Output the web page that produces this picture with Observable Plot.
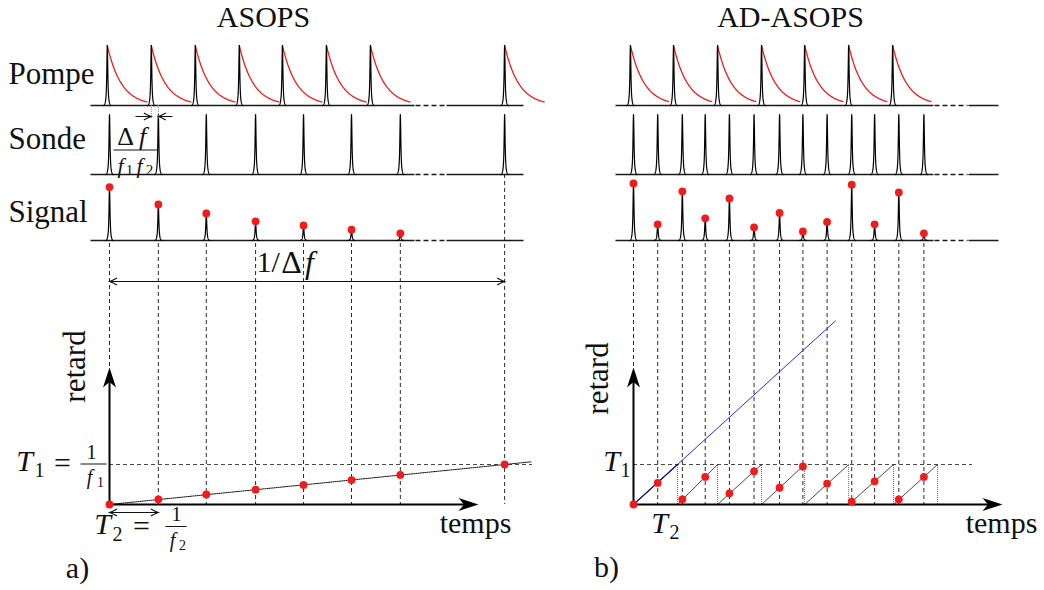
<!DOCTYPE html>
<html><head><meta charset="utf-8">
<script src="https://cdn.jsdelivr.net/npm/d3@7"></script>
<script src="https://cdn.jsdelivr.net/npm/@observablehq/plot@0.6"></script>
<style>
html,body{margin:0;padding:0;background:#fff;}
#chart{width:1044px;height:590px;overflow:hidden;}
</style></head>
<body><div id="chart"></div>
<script>
// ================= DATA =================
// Times are in pump periods T1 = 1/f1, measured from the first probe pulse of each panel.
// Panel a) ASOPS
const asopsPumpTimes  = [-0.05, 0.95, 1.95, 2.95, 3.93, 4.93, 5.93, 8.98];
const asopsProbeTimes = [0, 1.11, 2.2, 3.32, 4.41, 5.5, 6.61, 8.98];
const asopsSignal     = [0.89, 0.6, 0.45, 0.32, 0.25, 0.18, 0.12];      // relative to pump peak
const asopsDelay      = [0, 0.13, 0.25, 0.37, 0.49, 0.61, 0.74, 1.0];  // delay in T1
const asopsLineEnd    = 9.6;                                            // end of the dotted delay line

// Panel b) AD-ASOPS
const adPumpTimes  = [-0.07, 0.91, 1.91, 2.91, 3.89, 4.89, 5.89];
const adProbeTimes = [0, 0.55, 1.11, 1.63, 2.18, 2.74, 3.32, 3.85, 4.4, 4.96, 5.48, 6.03, 6.6];
const adSignal     = [0.95, 0.27, 0.82, 0.37, 0.7, 0.22, 0.46, 0.15, 0.31, 0.93, 0.27, 0.8, 0.12];
const adDelay      = [0, 0.54, 0.13, 0.69, 0.28, 0.83, 0.42, 0.95, 0.52, 0.07, 0.58, 0.13, 0.69];
const adResetTimes = [0, 1.0, 1.91, 2.91, 3.89, 4.89, 5.91, 6.91];       // sawtooth resets
const adLinearEnd  = 4.59;                                                // end of blue linear delay line

// Text
const panelTitles = ["ASOPS", "AD-ASOPS"];
const rowLabels   = ["Pompe", "Sonde", "Signal"];
const axisLabels  = ["retard", "temps"];
const panelTags   = ["a)", "b)"];

// ================= LAYOUT =================
const SERIF = "'Liberation Serif', 'DejaVu Serif', serif";
const PXT = 44, X0 = 109, PXD = 40, Y0 = 504;
const X = px => (px - X0) / PXT;     // layout px -> time units
const Y = py => (Y0 - py) / PXD;     // layout px -> delay units
const SHIFT_R = X(633);              // origin of right panel
const BASE = {pump: Y(105), probe: Y(174), signal: Y(240)};
const AMP = 60 / PXD;                // y units per unit amplitude
const RED = "#f01c1c";

function pulses(times, amps, base, shift, key) {
  const out = [];
  const half = 3.5, w = 0.6, edge = 1 / (1 + (half / w) ** 2);
  times.forEach((t, i) => {
    const a = amps == null ? 1 : amps[i];
    if (a == null) return;
    for (let k = -35; k <= 35; k++) {
      const dx = k / 10;
      const v = (1 / (1 + (dx / w) ** 2) - edge) / (1 - edge);
      out.push({x: shift + t + dx / PXT, y: base + a * AMP * v, z: key + i});
    }
  });
  return out;
}
function decays(times, base, shift, len, key) {
  const out = [];
  times.forEach((t, i) => {
    for (let k = 0; k <= 60; k++) {
      const dt = len * k / 60;
      out.push({x: shift + t + dt, y: base + AMP * Math.exp(-dt * PXT / 14), z: key + i});
    }
  });
  return out;
}

// baselines
const solidSegs = [], dashSegs = [];
for (const b of [BASE.pump, BASE.probe, BASE.signal]) {
  solidSegs.push({x1: X(90), x2: X(414), y: b}, {x1: X(446), x2: X(523), y: b},
                 {x1: X(615), x2: X(933), y: b}, {x1: X(968), x2: X(998), y: b});
  dashSegs.push({x1: X(415), x2: X(445), y: b}, {x1: X(934), x2: X(967), y: b});
}
// vertical guides
const guides = [
  ...asopsProbeTimes.map((t, i) => ({x: t, y1: i < asopsSignal.length ? BASE.signal - 3 / PXD : BASE.probe, y2: t === 0 ? Y(378) : 0})),
  ...adProbeTimes.map(t => ({x: SHIFT_R + t, y1: BASE.signal - 3 / PXD, y2: t === 0 ? Y(378) : 0}))
];
// sawtooth
const sawDiag = [], sawVert = [];
for (let j = 1; j < adResetTimes.length - 1; j++)
  sawDiag.push({x1: SHIFT_R + adResetTimes[j], y1: 0, x2: SHIFT_R + adResetTimes[j + 1], y2: 1});
for (let j = 1; j < adResetTimes.length; j++)
  sawVert.push({x: SHIFT_R + adResetTimes[j]});

const stealth = {draw(ctx) {
  ctx.moveTo(0, 0); ctx.lineTo(6.5, 20); ctx.lineTo(0, 14.5); ctx.lineTo(-6.5, 20); ctx.closePath();
}};
const chevron = {draw(ctx) {
  ctx.moveTo(-3.6, 7.5); ctx.quadraticCurveTo(-0.9, 2.6, 0, 0); ctx.quadraticCurveTo(0.9, 2.6, 3.6, 7.5);
}};

function tx(str, px, py, o = {}) {
  return Plot.text([str], {x: X(px), y: Y(py), text: d => d, fontFamily: SERIF, fontSize: 30,
    fill: "#111", lineAnchor: "middle", textAnchor: "middle", ...o});
}
const it = {fontStyle: "italic"};
const bar = (px1, px2, py) => Plot.link([0], {x1: X(px1), x2: X(px2), y1: Y(py), y2: Y(py), stroke: "#111", strokeWidth: 1});

const dots = [
  ...asopsProbeTimes.slice(0, asopsSignal.length).map((t, i) => ({x: t, y: BASE.signal + asopsSignal[i] * AMP})),
  ...adProbeTimes.map((t, i) => ({x: SHIFT_R + t, y: BASE.signal + adSignal[i] * AMP})),
  ...asopsProbeTimes.map((t, i) => ({x: t, y: asopsDelay[i]})),
  ...adProbeTimes.map((t, i) => ({x: SHIFT_R + t, y: adDelay[i]}))
];

const lastProbe = asopsProbeTimes[asopsProbeTimes.length - 1];
const annLines = [
  {x1: 0, x2: lastProbe, y: Y(281)},
  {x1: 0, x2: asopsProbeTimes[1], y: Y(512)},
  {x1: X(135), x2: asopsPumpTimes[1], y: Y(116)},
  {x1: X(172), x2: asopsProbeTimes[1], y: Y(116)}
];
const annTips = [
  {x: 0, y: Y(281), r: -90}, {x: lastProbe, y: Y(281), r: 90},
  {x: 0, y: Y(512), r: -90}, {x: asopsProbeTimes[1], y: Y(512), r: 90},
  {x: asopsPumpTimes[1], y: Y(116), r: 90}, {x: asopsProbeTimes[1], y: Y(116), r: -90}
];

const chart = Plot.plot({
  width: 1044, height: 590, margin: 0,
  x: {type: "linear", domain: [X(0), X(1044)], range: [0, 1044], axis: null},
  y: {type: "linear", domain: [Y(590), Y(0)], range: [590, 0], axis: null},
  style: {background: "white"},
  marks: [
    // baselines
    Plot.link(solidSegs, {x1: "x1", x2: "x2", y1: "y", y2: "y", stroke: "#1a1a1a", strokeWidth: 1.5}),
    Plot.link(dashSegs, {x1: "x1", x2: "x2", y1: "y", y2: "y", stroke: "#1a1a1a", strokeWidth: 1.5, strokeDasharray: "5,3"}),
    // guides
    Plot.ruleX(guides, {x: "x", y1: "y1", y2: "y2", stroke: "#111", strokeWidth: 0.9, strokeDasharray: "4,3"}),
    // T1 levels
    Plot.ruleY([1], {x1: 0, x2: X(532), stroke: "#333", strokeWidth: 0.9, strokeDasharray: "4,3"}),
    Plot.ruleY([1], {x1: SHIFT_R, x2: X(972), stroke: "#333", strokeWidth: 0.9, strokeDasharray: "4,3"}),
    // ASOPS delay line
    Plot.line([{x: 0, y: 0}, {x: asopsLineEnd, y: asopsLineEnd / lastProbe}],
      {x: "x", y: "y", stroke: "#111", strokeWidth: 1, strokeDasharray: "1.2,1"}),
    // AD-ASOPS sawtooth
    Plot.ruleX(sawVert, {x: "x", y1: 0, y2: 1, stroke: "#555", strokeWidth: 0.9, strokeDasharray: "1,1"}),
    Plot.link(sawDiag, {x1: "x1", y1: "y1", x2: "x2", y2: "y2", stroke: "#333", strokeWidth: 0.9}),
    Plot.line([{x: SHIFT_R, y: 0}, {x: SHIFT_R + adLinearEnd, y: adLinearEnd / adResetTimes[1]}],
      {x: "x", y: "y", stroke: "#2a2af0", strokeWidth: 1}),
    Plot.line([{x: SHIFT_R, y: 0}, {x: SHIFT_R + adResetTimes[1], y: 1}],
      {x: "x", y: "y", stroke: "#0c0c70", strokeWidth: 1.1}),
    // axes
    Plot.link([{x: 0}, {x: SHIFT_R}], {x1: "x", x2: "x", y1: 0, y2: Y(380), stroke: "#000", strokeWidth: 2}),
    Plot.link([{x: 0, e: X(468)}, {x: SHIFT_R, e: X(992)}], {x1: "x", x2: "e", y1: 0, y2: 0, stroke: "#000", strokeWidth: 2}),
    Plot.dot([{x: 0, y: Y(367), r: 0}, {x: SHIFT_R, y: Y(367), r: 0}, {x: X(478), y: 0, r: 90}, {x: X(1002), y: 0, r: 90}],
      {x: "x", y: "y", rotate: "r", symbol: stealth, fill: "#000", stroke: "none"}),
    // decays
    Plot.line(decays(asopsPumpTimes, BASE.pump, 0, 0.9, "la"), {x: "x", y: "y", z: "z", stroke: RED, strokeWidth: 1.3}),
    Plot.line(decays(adPumpTimes, BASE.pump, SHIFT_R, 0.87, "ra"), {x: "x", y: "y", z: "z", stroke: RED, strokeWidth: 1.3}),
    // pulses
    Plot.line([
      ...pulses(asopsPumpTimes, null, BASE.pump, 0, "lp"),
      ...pulses(asopsProbeTimes, null, BASE.probe, 0, "ls"),
      ...pulses(asopsProbeTimes, asopsSignal, BASE.signal, 0, "lg"),
      ...pulses(adPumpTimes, null, BASE.pump, SHIFT_R, "rp"),
      ...pulses(adProbeTimes, null, BASE.probe, SHIFT_R, "rs"),
      ...pulses(adProbeTimes, adSignal, BASE.signal, SHIFT_R, "rg")
    ], {x: "x", y: "y", z: "z", stroke: "#000", strokeWidth: 1.2}),
    // red dots
    Plot.dot(dots, {x: "x", y: "y", r: 3.9, fill: RED, stroke: "none"}),
    // annotation arrows
    Plot.link(annLines, {x1: "x1", x2: "x2", y1: "y", y2: "y", stroke: "#111", strokeWidth: 1}),
    Plot.dot(annTips, {x: "x", y: "y", rotate: "r", symbol: chevron, fill: "none", stroke: "#111", strokeWidth: 1.1}),
    Plot.ruleX([asopsPumpTimes[1], asopsProbeTimes[1]], {x: d => d, y1: BASE.pump, y2: Y(119), stroke: "#888", strokeWidth: 1, strokeDasharray: "1,1"}),
    // texts
    tx(panelTitles[0], 263, 17), tx(panelTitles[1], 790, 17),
    tx(rowLabels[0], 8, 74, {textAnchor: "start", fontSize: 31}),
    tx(rowLabels[1], 8, 139, {textAnchor: "start", fontSize: 31}),
    tx(rowLabels[2], 8, 212, {textAnchor: "start", fontSize: 31}),
    tx(axisLabels[0], 75, 366, {rotate: -90, fontSize: 31}), tx(axisLabels[0], 598, 378, {rotate: -90, fontSize: 31}),
    tx(axisLabels[1], 475, 523), tx(axisLabels[1], 1001, 523),
    tx(panelTags[0], 77, 568), tx(panelTags[1], 606, 567),
    // 1/Δf
    tx("1/", 256, 262, {textAnchor: "start"}), tx("Δ", 291, 262, {fontSize: 32}), tx("f", 309, 262, {fontSize: 32, ...it}),
    // Δf / f1 f2
    tx("Δ", 125, 136, {fontSize: 26}), tx("f", 142, 136, {fontSize: 26, ...it}), bar(113, 157, 149.5),
    tx("f", 120, 165, {fontSize: 22, ...it}), tx("1", 129, 170, {fontSize: 15}),
    tx("f", 139, 165, {fontSize: 22, ...it}), tx("2", 149, 170, {fontSize: 15}),
    // T1 = 1/f1
    tx("T", 24, 461, it), tx("1", 39, 470, {fontSize: 20}), tx("=", 62, 463),
    tx("1", 91, 452, {fontSize: 20}), bar(80, 106, 463.5), tx("f", 89, 477, {fontSize: 20, ...it}), tx("1", 100, 482, {fontSize: 14}),
    // T2 = 1/f2
    tx("T", 102, 524, it), tx("2", 117, 534, {fontSize: 20}), tx("=", 141, 526),
    tx("1", 176, 514, {fontSize: 20}), bar(165, 186, 526), tx("f", 172, 540, {fontSize: 20, ...it}), tx("2", 182, 545, {fontSize: 14}),
    // right T1, T2
    tx("T", 611, 461, it), tx("1", 625, 470, {fontSize: 20}),
    tx("T", 659, 523, it), tx("2", 674, 532, {fontSize: 20})
  ]
});
document.getElementById("chart").appendChild(chart);
</script>
</body></html>
